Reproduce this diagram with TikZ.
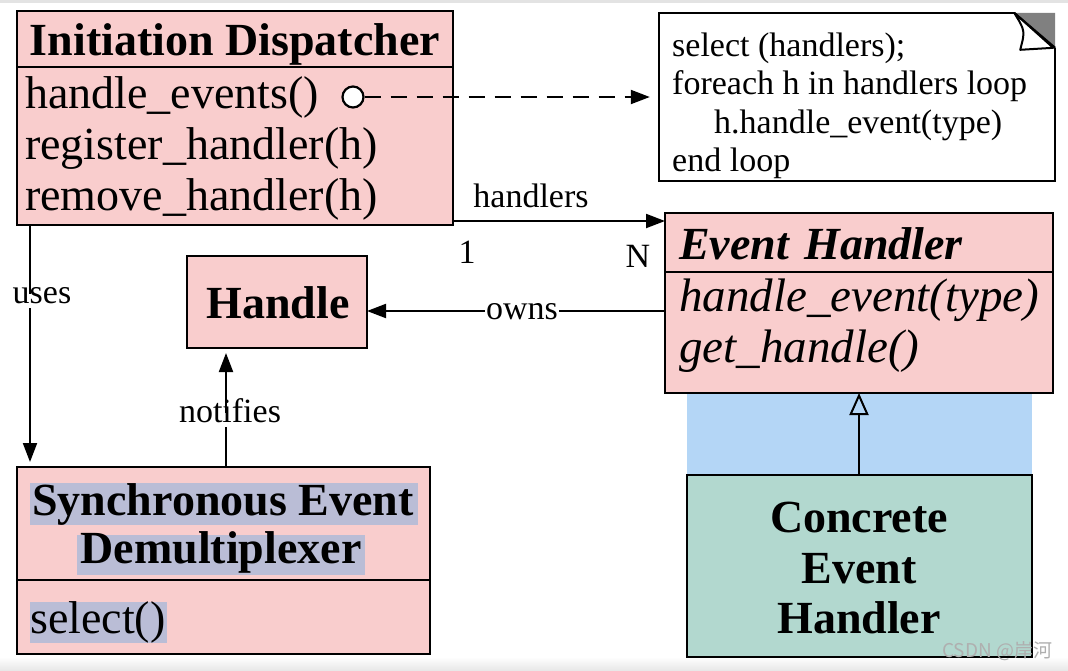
\documentclass[tikz,border=0pt]{standalone}
\usepackage{fontspec}
\setmainfont{Liberation Serif}
\newfontfamily\cjkfont{Noto Sans CJK SC}
\usetikzlibrary{arrows.meta,calc}
\definecolor{pinkc}{RGB}{249,205,205}
\definecolor{bluec}{RGB}{180,214,246}
\definecolor{tealc}{RGB}{178,216,207}
\definecolor{hlc}{RGB}{186,189,214}
\definecolor{cornerc}{RGB}{128,128,128}
\definecolor{wmc}{RGB}{175,175,175}
\tikzset{
  umlbox/.style={draw=black, line width=2.5pt, fill=pinkc, inner sep=0pt, outer sep=0pt},
  big/.style={font=\fontsize{46}{50}\selectfont, inner sep=0pt},
  bigb/.style={font=\fontsize{46}{50}\selectfont\bfseries, inner sep=0pt},
  small/.style={font=\fontsize{34}{39}\selectfont, inner sep=0pt},
  conn/.style={line width=2pt, -{Triangle[length=19pt,width=14pt]}},
  lbl/.style={font=\fontsize{34}{39}\selectfont, fill=white, inner xsep=1pt, inner ysep=2pt, text height=0.7em, text depth=0.25em, anchor=base},
  divider/.style={line width=2.5pt},
}
\begin{document}
\begin{tikzpicture}[x=1pt,y=-1pt]
\useasboundingbox (0,0) rectangle (1068,670);
\fill[white] (0,0) rectangle (1068,670);
\fill[gray!22] (0,0) rectangle (1068,3);
\shade[top color=white, bottom color=gray!18] (0,657) rectangle (1068,670);

% ---- Initiation Dispatcher
\node[umlbox, minimum width=436pt, minimum height=214pt] (disp) at (235,118) {};
\draw[divider] (disp.west |- 0,67) -- (disp.east |- 0,67);
\node[bigb, anchor=base] (dtitle) at (235,55) {Initiation Dispatcher};
\node[big, anchor=base west] (dm1) at (25,108) {handle\_events()};
\node[big, anchor=base west] (dm2) at (25,159) {register\_handler(h)};
\node[big, anchor=base west] (dm3) at (25,210) {remove\_handler(h)};
\node[circle, draw=black, line width=2.2pt, fill=white, minimum size=21pt, inner sep=0pt] (dot) at (353,97) {};

% ---- Note
\node[minimum width=396pt, minimum height=168pt, inner sep=0pt] (note) at (857,97) {};
\fill[white] (note.north west) -- ([xshift=-41pt]note.north east) -- ([yshift=-35pt]note.north east) -- (note.south east) -- (note.south west) -- cycle;
\fill[cornerc] ([xshift=-41pt]note.north east) -- (note.north east) -- ([yshift=-35pt]note.north east) -- cycle;
\draw[line width=2pt, line join=miter] ([yshift=-35pt]note.north east) -- (note.south east) -- (note.south west) -- (note.north west) -- ([xshift=-41pt]note.north east);
\draw[line width=2pt, fill=white, line join=round] ([xshift=-41pt]note.north east) .. controls ([xshift=-30pt,yshift=-18pt]note.north east) .. ([xshift=-35pt,yshift=-37pt]note.north east) -- ([xshift=-2pt,yshift=-35pt]note.north east) -- cycle;
\draw[line width=2pt] ([xshift=-41pt]note.north east) -- ([yshift=-35pt]note.north east);
\node[small, anchor=base west] (n1) at (672,56) {select (handlers);};
\node[small, anchor=base west] (n2) at (672,94.5) {foreach h in handlers loop};
\node[small, anchor=base west] (n3) at (714,133) {h.handle\_event(type)};
\node[small, anchor=base west] (n4) at (672,171.5) {end loop};

% ---- Event Handler
\fill[bluec] (687,393) rectangle (1032,475);
\node[umlbox, minimum width=388pt, minimum height=180pt] (evh) at (859,303) {};
\draw[divider] (evh.west |- 0,272) -- (evh.east |- 0,272);
\node[bigb, font=\fontsize{46}{50}\selectfont\bfseries\itshape, anchor=base west] (etitle) at (679,259) {Event\hspace{0.33em}Handler};
\node[big, font=\fontsize{47}{50}\selectfont\itshape, anchor=base west] (em1) at (679,311) {handle\_event(type)};
\node[big, font=\fontsize{47}{50}\selectfont\itshape, anchor=base west] (em2) at (679,362) {get\_handle()};

% ---- Concrete Event Handler
\node[umlbox, fill=tealc, minimum width=345pt, minimum height=182pt] (conc) at (859.5,566) {};
\node[bigb, anchor=base] (c1) at (859,532) {Concrete};
\node[bigb, anchor=base] (c2) at (859,583) {Event};
\node[bigb, anchor=base] (c3) at (859,633) {Handler};

% ---- Handle
\node[umlbox, minimum width=180pt, minimum height=92pt] (hdl) at (277,302) {};
\node[bigb, anchor=base] (htext) at (278,318) {Handle};

% ---- Synchronous Event Demultiplexer
\node[umlbox, minimum width=413pt, minimum height=187pt] (sync) at (223.5,560.5) {};
\draw[divider] (sync.west |- 0,580) -- (sync.east |- 0,580);
\fill[hlc] (30,483) rectangle (418,525);
\fill[hlc] (77,535) rectangle (365,575);
\fill[hlc] (30,602) rectangle (167,643);
\node[bigb, anchor=base] (s1) at (223,515) {Synchronous Event};
\node[bigb, anchor=base] (s2) at (221,563) {Demultiplexer};
\node[big, anchor=base west] (s3) at (30,633) {select()};

% ---- Connectors
\draw[conn, dashed, dash pattern=on 16pt off 10pt, shorten >=9pt] (dot) -- (note.west);
\draw[conn] (disp.east |- 0,221) -- (evh.west |- 0,221);
\node[small, anchor=base] (lhandlers) at (531,207) {handlers};
\node[small, anchor=base] (lone) at (467,263) {1};
\node[small, anchor=base] (lN) at (638,267) {N};

\draw[conn] (evh.west |- 0,311) -- (hdl.east |- 0,311);
\node[lbl] (lowns) at (522,319) {owns};

\draw[conn, shorten >=5pt] (disp.south west -| 30,0) -- (sync.north -| 30,0);
\node[lbl] (luses) at (42,303) {uses};

\draw[conn, shorten >=5pt] (sync.north -| 226,0) -- (hdl.south -| 226,0);
\node[lbl] (lnotifies) at (230,422) {notifies};

\draw[line width=2pt, -{Triangle[open, length=22pt, width=19pt, fill=bluec]}] (conc.north -| evh.south) -- (evh.south);

% ---- watermark
\node[anchor=base west, text=wmc, inner sep=0pt, font=\cjkfont\fontsize{19}{19}\selectfont] (wm) at (942,657) {CSDN @岸河};
\end{tikzpicture}
\end{document}
